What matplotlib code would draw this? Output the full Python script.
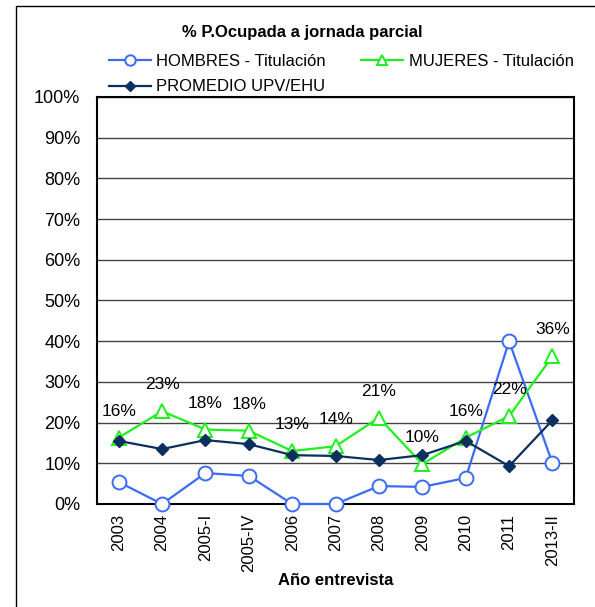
import matplotlib.pyplot as plt
from matplotlib.patches import Rectangle

plt.rcParams['font.family'] = ['Liberation Sans', 'DejaVu Sans']

# data (percent)
years = ['2003', '2004', '2005-I', '2005-IV', '2006', '2007', '2008', '2009', '2010', '2011', '2013-II']
hombres = [5.4, 0.0, 7.6, 6.9, 0.0, 0.0, 4.4, 4.2, 6.4, 40.0, 10.0]
mujeres = [16.3, 22.8, 18.3, 18.0, 13.0, 14.2, 21.2, 9.8, 16.3, 21.6, 36.3]
promedio = [15.5, 13.5, 15.7, 14.7, 12.0, 11.8, 10.8, 12.0, 15.5, 9.3, 20.6]
mujeres_labels = ['16%', '23%', '18%', '18%', '13%', '14%', '21%', '10%', '16%', '22%', '36%']

fig = plt.figure(figsize=(5.95, 6.07), dpi=100)
ax = fig.add_axes([0.163, 0.1697, 0.802, 0.6705])

x = list(range(len(years)))

# outer chart border
fig.patches.append(Rectangle((16 / 595, -0.05), 1.0, 0.05 + (607 - 6) / 607,
                             transform=fig.transFigure, fill=False,
                             edgecolor='black', linewidth=1))

ln_h, = ax.plot(x, hombres, color='#3b6cf5', linewidth=1.6, marker='o',
                markersize=10, markerfacecolor='white', markeredgecolor='#3b6cf5',
                markeredgewidth=1.4, zorder=3, clip_on=False)
ln_m, = ax.plot(x, mujeres, color='#1ef01e', linewidth=1.6, marker='^',
                markersize=10, markerfacecolor='white', markeredgecolor='#1ef01e',
                markeredgewidth=1.4, zorder=3, clip_on=False)
ln_p, = ax.plot(x, promedio, color='#0b2f5e', linewidth=1.6, marker='D',
                markersize=6.5, markerfacecolor='#0b2f5e', markeredgecolor='#0b2f5e',
                zorder=4, clip_on=False)

for xi, v, lab in zip(x, mujeres, mujeres_labels):
    ax.annotate(lab, (xi, v), xytext=(0, 19), textcoords='offset points',
                ha='center', va='center', fontsize=12.5, color='black', zorder=5)

ax.set_xlim(-0.5, len(years) - 0.5)
ax.set_ylim(0, 100)
ax.set_yticks(range(0, 101, 10))
ax.set_yticklabels([f'{v}%' for v in range(0, 101, 10)], fontsize=13)
ax.set_xticks(x)
ax.set_xticklabels(years, rotation=90, fontsize=12)
ax.tick_params(axis='both', length=0)
ax.tick_params(axis='y', pad=12)
ax.tick_params(axis='x', pad=7)
ax.yaxis.grid(True, color='#444444', linewidth=1)
ax.set_axisbelow(True)
for s in ax.spines.values():
    s.set_linewidth(1.5)
    s.set_color('black')

ax.set_xlabel('Año entrevista', fontsize=12, fontweight='bold', labelpad=1)

fig.text(302 / 595, 1 - 32 / 607, '% P.Ocupada a jornada parcial',
         ha='center', va='center', fontsize=12, fontweight='bold')

fig.legend([ln_h, ln_p, ln_m],
           ['HOMBRES - Titulación', 'PROMEDIO UPV/EHU', 'MUJERES - Titulación'],
           ncol=2, loc='upper left', bbox_to_anchor=(109 / 595, 1 - 54 / 607),
           frameon=False, fontsize=12, handlelength=2.5, handletextpad=0.35,
           columnspacing=2.1, labelspacing=0.62, borderpad=0, borderaxespad=0,
           markerscale=0.75)

fig.savefig('out.png', dpi=100)
